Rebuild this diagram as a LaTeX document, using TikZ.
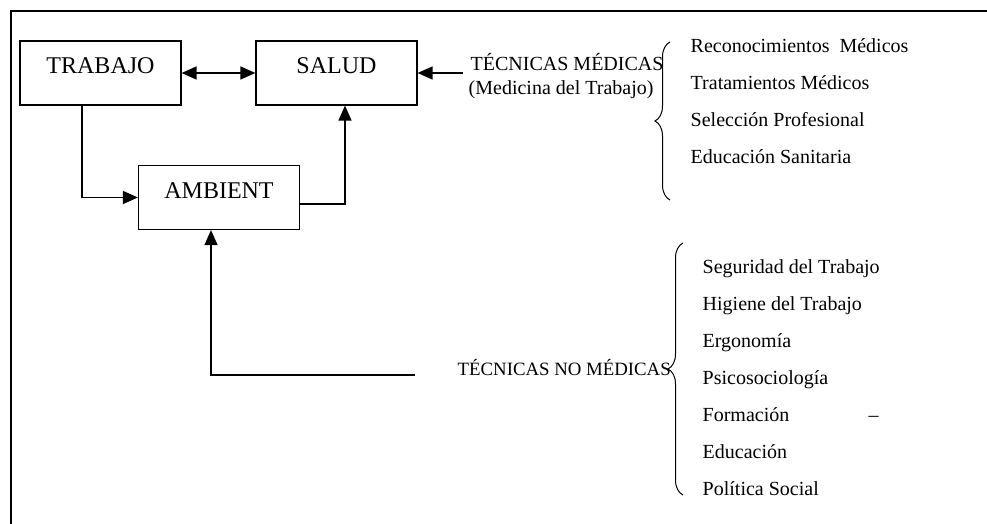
\documentclass[tikz,border=0pt]{standalone}
\usepackage{fontspec}
\setmainfont{Liberation Serif}
\usetikzlibrary{arrows.meta,matrix,decorations.pathreplacing}

\begin{document}
\begin{tikzpicture}[x=0.5pt,y=-0.5pt,line width=0.7pt,
	>={Triangle[length=7.5pt,width=6.5pt]},
	caja/.style={draw,line width=0.6pt,minimum width=80.5pt,inner xsep=2pt,inner ysep=4pt,text height=12.5pt,text depth=11.5pt,font=\fontsize{12}{14}\selectfont},
	texto/.style={font=\fontsize{10}{12}\selectfont,inner sep=0pt},
	llave/.style={decorate,decoration={brace,amplitude=7.5pt},line width=0.5pt}]
			\useasboundingbox (0,0) rectangle (987,524);
			\draw[line width=0.9pt] (987,11) -- (11,11) -- (11,524);
			\node[caja] (trab) at (100.5,73) {TRABAJO};
			\node[caja] (salud) at (336.5,73) {SALUD};
			\node[caja] (amb) at (219,197.5) {AMBIENT};
			\draw[<->] (trab) -- (salud);
			\draw[->] ([xshift=-9.25pt]trab.south) |- (amb.west);
			\draw[->] ([yshift=-3.25pt]amb.east) -| ([xshift=4.25pt]salud.south);
			\node[texto,anchor=base west] (tmed) at (470,71) {TÉCNICAS MÉDICAS};
			\node[texto,anchor=base west] (medtrab) at ([xshift=-1pt,yshift=-12pt]tmed.base west) {(Medicina del Trabajo)};
			\coordinate (tmedc) at (463,73);
			\draw[->] (tmedc) -- (salud.east);
			\node[texto,font=\fontsize{9.4}{12}\selectfont,anchor=base west] (tnmed) at (457,376) {TÉCNICAS NO MÉDICAS};
			\coordinate (tnmedc) at (415,375);
			\draw[->] (tnmedc) -| ([xshift=-4pt]amb.south);
			\draw[llave] (670,200) -- (670,42);
			\draw[llave] (683,495) -- (683,243);
			\matrix (lmed) [matrix of nodes,anchor=north west,inner sep=0pt,nodes={texto,text height=9pt,text depth=9.5pt},every cell/.style={anchor=base west}] at (690,34) {
				Reconocimientos\ \ Médicos\\
				Tratamientos Médicos\\
				Selección Profesional\\
				Educación Sanitaria\\
			};
			\matrix (lnmed) [matrix of nodes,anchor=north west,inner sep=0pt,nodes={texto,text height=9pt,text depth=9.5pt},every cell/.style={anchor=base west}] at (702,255) {
				Seguridad del Trabajo\\
				Higiene del Trabajo\\
				Ergonomía\\
				Psicosociología\\
				Formación\\
				Educación\\
				Política Social\\
			};
			\node[texto,anchor=base west,xshift=83pt] (guion) at (lnmed-5-1.base west) {–};
		\end{tikzpicture}
\end{document}
